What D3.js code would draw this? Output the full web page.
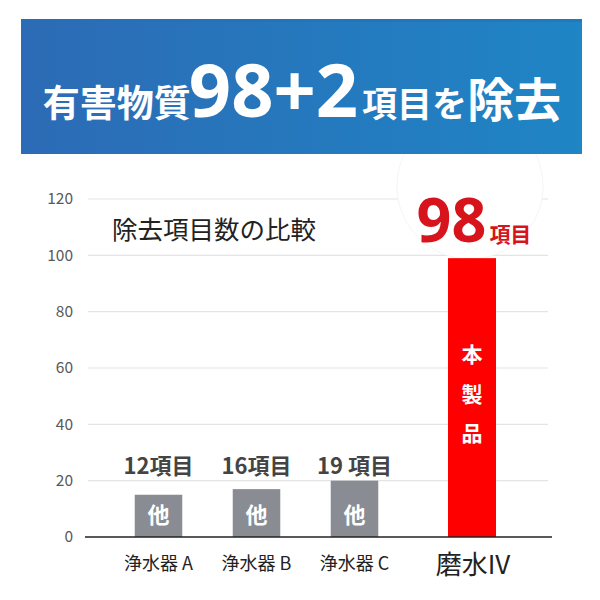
<!DOCTYPE html>
<html><head><meta charset="utf-8">
<script src="https://cdn.jsdelivr.net/npm/d3@7/dist/d3.min.js"></script>
<style>body{margin:0;background:#fff}svg{display:block}</style>
</head><body>
<svg id="c" width="600" height="600"></svg>
<script>
const otherCats = ["浄水器 A", "浄水器 B", "浄水器 C"];
const otherValues = [15, 17, 20];
const otherLabels = ["12項目", "16項目", "19 項目"];
const productCats = ["磨水IV"];
const productValues = [99];
const productLabelNum = "98";
const productLabelUnit = "項目";
const productChars = ["本", "製", "品"];
const yTicks = [0, 20, 40, 60, 80, 100, 120];
const chartTitle = "除去項目数の比較";

const FONT = "'Noto Sans CJK JP','Noto Sans',sans-serif";
const svg = d3.select("#c");

// scales
const y = d3.scaleLinear().domain([0,120]).range([537,199]);
const xA = d3.scaleBand().domain(otherCats).range([109.5,403.5]).paddingInner(0.515).paddingOuter(0.2575);
const xB = d3.scaleBand().domain(productCats).range([423,521]).paddingInner(0.51).paddingOuter(0.255);

// gridlines
svg.append("g").selectAll("line").data(yTicks.filter(d=>d>0)).join("line")
  .attr("x1",88).attr("x2",548).attr("y1",d=>y(d)).attr("y2",d=>y(d))
  .attr("stroke","#e4e4e4").attr("stroke-width",1.2);

// white circle behind product label
svg.append("circle").attr("cx",470).attr("cy",186).attr("r",73)
  .attr("fill","#fff").attr("stroke","#f5f5f5").attr("stroke-width",1);

// header banner
const defs = svg.append("defs");
const g1 = defs.append("linearGradient").attr("id","hg").attr("x1","0").attr("x2","1").attr("y1","0").attr("y2","0");
g1.append("stop").attr("offset","0").attr("stop-color","#2c6bb5");
g1.append("stop").attr("offset","1").attr("stop-color","#1f85c5");
svg.append("rect").attr("x",0).attr("y",0).attr("width",600).attr("height",19).attr("fill","#fff");
svg.append("rect").attr("x",21).attr("y",19).attr("width",561).attr("height",135).attr("fill","url(#hg)");
svg.append("rect").attr("x",21).attr("y",19).attr("width",561).attr("height",3).attr("fill","#2670b6").attr("opacity",0.6);
const ht = svg.append("text").attr("x",302).attr("y",117).attr("text-anchor","middle")
  .attr("fill","#fff").attr("font-family",FONT).attr("font-weight","bold");
ht.append("tspan").attr("font-size",37).text("有害物質");
ht.append("tspan").attr("font-size",74).attr("font-family","'Open Sans','Noto Sans',sans-serif").attr("dx",-2).text("98+2");
ht.append("tspan").attr("font-size",35).attr("dx",4).text("項目を");
ht.append("tspan").attr("font-size",47).text("除去");

// y axis labels
const yAxis = d3.axisLeft(y).tickValues(yTicks).tickSize(0).tickPadding(0);
const ya = svg.append("g").attr("transform","translate(73,0)").call(yAxis);
ya.select(".domain").remove();
ya.selectAll("text").attr("font-family",FONT).attr("font-size",15.5).attr("fill","#595959");

// title
svg.append("text").attr("x",112).attr("y",239).attr("font-family",FONT).attr("font-size",25.5)
  .attr("fill","#222").text(chartTitle);

// other bars
svg.append("g").selectAll("rect").data(otherCats).join("rect")
  .attr("x",d=>xA(d)).attr("width",xA.bandwidth())
  .attr("y",(d,i)=>y(otherValues[i])).attr("height",(d,i)=>y(0)-y(otherValues[i]))
  .attr("fill","#8a8c93");
svg.append("g").selectAll("text").data(otherCats).join("text")
  .attr("x",d=>xA(d)+xA.bandwidth()/2).attr("y",523).attr("text-anchor","middle")
  .attr("font-family",FONT).attr("font-weight","bold").attr("font-size",22).attr("fill","#fff").text("他");
svg.append("g").selectAll("text").data(otherCats).join("text")
  .attr("x",d=>xA(d)+xA.bandwidth()/2).attr("y",474).attr("text-anchor","middle")
  .attr("font-family",FONT).attr("font-weight","bold").attr("font-size",22).attr("fill","#444")
  .text((d,i)=>otherLabels[i]);

// product bar
svg.append("g").selectAll("rect").data(productCats).join("rect")
  .attr("x",d=>xB(d)).attr("width",xB.bandwidth())
  .attr("y",(d,i)=>y(productValues[i])).attr("height",(d,i)=>y(0)-y(productValues[i]))
  .attr("fill","#ff0000");
const pcx = xB(productCats[0]) + xB.bandwidth()/2;
svg.append("g").selectAll("text").data(productChars).join("text")
  .attr("x",pcx).attr("y",(d,i)=>362+i*39.5).attr("text-anchor","middle")
  .attr("font-family",FONT).attr("font-weight","bold").attr("font-size",21).attr("fill","#fff").text(d=>d);
const pl = svg.append("text").attr("x",pcx+2).attr("y",242).attr("text-anchor","middle")
  .attr("fill","#d7141c").attr("font-family",FONT).attr("font-weight","bold");
pl.append("tspan").attr("font-size",61).attr("font-family","'Open Sans','Noto Sans',sans-serif").text(productLabelNum);
pl.append("tspan").attr("font-size",21).attr("dx",3).text(productLabelUnit);

// baseline
svg.append("line").attr("x1",85).attr("x2",552).attr("y1",y(0)).attr("y2",y(0))
  .attr("stroke","#222").attr("stroke-width",1.6);

// category labels
svg.append("g").selectAll("text").data(otherCats).join("text")
  .attr("x",d=>xA(d)+xA.bandwidth()/2).attr("y",570).attr("text-anchor","middle")
  .attr("font-family",FONT).attr("font-size",18).attr("fill","#222").text(d=>d);
svg.append("g").selectAll("text").data(productCats).join("text")
  .attr("x",d=>xB(d)+xB.bandwidth()/2+1).attr("y",574).attr("text-anchor","middle")
  .attr("font-family",FONT).attr("font-size",26).attr("fill","#222").text(d=>d);
</script>
</body></html>
